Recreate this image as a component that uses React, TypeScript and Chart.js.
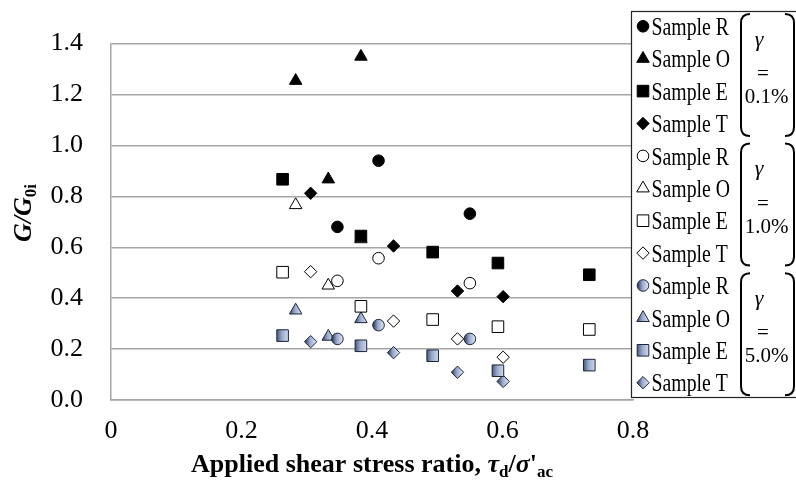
import React, { useEffect, useRef } from 'react';
import { Chart, registerables } from 'chart.js';
import { drawPoint } from 'chart.js/helpers';

Chart.register(...registerables);

// ---- data ----
const sampleNames = ['Sample R', 'Sample O', 'Sample E', 'Sample T'];
const strainLabels = ['0.1%', '1.0%', '5.0%'];

const xR = [0.347, 0.41, 0.55];
const xO = [0.283, 0.333, 0.383];
const xE = [0.263, 0.383, 0.493, 0.593, 0.733];
const xT = [0.306, 0.433, 0.531, 0.601];

// gamma = 0.1%
const yR01 = [0.68, 0.94, 0.732];
const yO01 = [1.254, 0.867, 1.349];
const yE01 = [0.867, 0.644, 0.581, 0.538, 0.492];
const yT01 = [0.812, 0.605, 0.428, 0.406];
// gamma = 1.0%
const yR10 = [0.468, 0.557, 0.459];
const yO10 = [0.766, 0.45, 0.632];
const yE10 = [0.502, 0.368, 0.316, 0.288, 0.277];
const yT10 = [0.504, 0.31, 0.24, 0.168];
// gamma = 5.0%
const yR50 = [0.24, 0.294, 0.24];
const yO50 = [0.352, 0.249, 0.318];
const yE50 = [0.253, 0.213, 0.174, 0.115, 0.137];
const yT50 = [0.229, 0.186, 0.109, 0.073];

const xTicks = [0, 0.2, 0.4, 0.6, 0.8];
const yTicks = [0, 0.2, 0.4, 0.6, 0.8, 1.0, 1.2, 1.4];

const xs = [xR, xO, xE, xT];
const ys = [
  [yR01, yO01, yE01, yT01],
  [yR10, yO10, yE10, yT10],
  [yR50, yO50, yE50, yT50],
];

// ---- styles ----
const shapes = ['circle', 'triangle', 'rect', 'rectRot'];
const radii = [5.8, 7.2, 8.2, 6.2];
const FONT = "'Liberation Serif', 'Times New Roman', serif";

function makeGrad(ctx: CanvasRenderingContext2D, px: number, r: number) {
  const g = ctx.createLinearGradient(px - r, 0, px + r, 0);
  g.addColorStop(0, '#26324f');
  g.addColorStop(0.45, '#98a9cc');
  g.addColorStop(1, '#e6ecf7');
  return g;
}

function fillFor(strain: number, shapeIdx: number) {
  if (strain === 0) return '#000000';
  if (strain === 1) return '#ffffff';
  return (c: any) => {
    const chart = c.chart;
    const raw = c.raw;
    if (!raw || !chart.scales || !chart.scales.x || !chart.chartArea) return '#a9b7d6';
    const px = chart.scales.x.getPixelForValue(raw.x);
    if (!Number.isFinite(px)) return '#a9b7d6';
    return makeGrad(chart.ctx, px, radii[shapeIdx]);
  };
}
const strokeFor = ['#000000', '#000000', '#1c243a'];

function buildDatasets() {
  const out: any[] = [];
  for (let g = 0; g < 3; g++) {
    for (let s = 0; s < 4; s++) {
      out.push({
        label: sampleNames[s] + ' ' + strainLabels[g],
        data: xs[s].map((x, i) => ({ x, y: ys[g][s][i] })),
        showLine: false,
        pointStyle: shapes[s],
        pointRadius: radii[s],
        pointHoverRadius: radii[s],
        pointBackgroundColor: fillFor(g, s),
        pointBorderColor: strokeFor[g],
        pointBorderWidth: 1,
      });
    }
  }
  return out;
}

const overlay = {
  id: 'overlay',
  afterDraw(chart: any) {
    const ctx: CanvasRenderingContext2D = chart.ctx;
    ctx.save();
    // legend box
    ctx.fillStyle = '#ffffff';
    ctx.fillRect(631, 11, 175, 386);
    ctx.strokeStyle = '#222';
    ctx.lineWidth = 1.2;
    ctx.strokeRect(631.5, 11.5, 175, 386);

    for (let g = 0; g < 3; g++) {
      for (let s = 0; s < 4; s++) {
        const i = g * 4 + s;
        const yc = 26.3 + 32.4 * i;
        const mx = 643;
        ctx.save();
        if (g === 0) ctx.fillStyle = '#000';
        else if (g === 1) ctx.fillStyle = '#fff';
        else ctx.fillStyle = makeGrad(ctx, mx, radii[s]);
        ctx.strokeStyle = strokeFor[g];
        ctx.lineWidth = 1;
        drawPoint(ctx, { pointStyle: shapes[s], radius: radii[s], rotation: 0, borderWidth: 1 } as any, mx, yc);
        ctx.restore();
        ctx.save();
        ctx.fillStyle = '#000';
        ctx.font = `26px ${FONT}`;
        ctx.textAlign = 'left';
        ctx.textBaseline = 'alphabetic';
        ctx.translate(651.5, yc + 8.7);
        ctx.scale(0.76, 1);
        ctx.fillText(sampleNames[s], 0, 0);
        ctx.restore();
      }
      // brackets
      const top = 14 + 129.6 * g;
      const bot = top + 122;
      ctx.strokeStyle = '#000';
      ctx.lineWidth = 2;
      ctx.beginPath();
      ctx.moveTo(750, top);
      ctx.quadraticCurveTo(741, top, 741, top + 9);
      ctx.lineTo(741, bot - 9);
      ctx.quadraticCurveTo(741, bot, 750, bot);
      ctx.stroke();
      ctx.beginPath();
      ctx.moveTo(785, top);
      ctx.quadraticCurveTo(794, top, 794, top + 9);
      ctx.lineTo(794, bot - 9);
      ctx.quadraticCurveTo(794, bot, 785, bot);
      ctx.stroke();
      // gamma labels
      ctx.fillStyle = '#000';
      ctx.textAlign = 'center';
      ctx.textBaseline = 'alphabetic';
      ctx.font = `italic 22px ${FONT}`;
      ctx.fillText('γ', 759, top + 31.5);
      ctx.font = `21px ${FONT}`;
      ctx.fillText('=', 763, top + 66);
      ctx.fillText(strainLabels[g], 766.5, top + 89);
    }

    // x title
    const runs: [string, string, number][] = [
      ['Applied shear stress ratio, ', `bold 26px ${FONT}`, 0],
      ['τ', `bold italic 26px ${FONT}`, 0],
      ['d', `bold 17px ${FONT}`, 5],
      ['/', `bold 26px ${FONT}`, 0],
      ['σ', `bold italic 26px ${FONT}`, 0],
      ["'", `bold 26px ${FONT}`, 0],
      ['ac', `bold 17px ${FONT}`, 5],
    ];
    const area = chart.chartArea;
    let total = 0;
    for (const [t, f] of runs) { ctx.font = f; total += ctx.measureText(t).width; }
    let xPos = (area.left + area.right) / 2 - total / 2;
    ctx.textAlign = 'left';
    for (const [t, f, dy] of runs) {
      ctx.font = f;
      ctx.fillText(t, xPos, 472 + dy);
      xPos += ctx.measureText(t).width;
    }

    // y title
    const yruns: [string, string, number][] = [
      ['G/G', `bold italic 26px ${FONT}`, 0],
      ['0i', `bold 17px ${FONT}`, 5],
    ];
    ctx.save();
    ctx.translate(31, 213);
    ctx.rotate(-Math.PI / 2);
    let yt = 0;
    for (const [t, f] of yruns) { ctx.font = f; yt += ctx.measureText(t).width; }
    let lx = -yt / 2;
    for (const [t, f, dy] of yruns) {
      ctx.font = f;
      ctx.fillText(t, lx, dy);
      lx += ctx.measureText(t).width;
    }
    ctx.restore();
    ctx.restore();
  },
};

export default function App() {
  const ref = useRef<HTMLCanvasElement | null>(null);
  useEffect(() => {
    if (!ref.current) return;
    const chart = new Chart(ref.current, {
      type: 'scatter',
      data: { datasets: buildDatasets() },
      options: {
        animation: false,
        responsive: false,
        events: [],
        layout: { padding: { left: 0, right: 163, top: 16, bottom: 0 } },
        plugins: { legend: { display: false }, tooltip: { enabled: false } },
        scales: {
          x: {
            type: 'linear',
            min: xTicks[0],
            max: xTicks[xTicks.length - 1],
            afterBuildTicks: (s: any) => { s.ticks = xTicks.map((v) => ({ value: v })); },
            afterFit: (s: any) => { s.height = 89; },
            ticks: {
              color: '#000',
              font: { family: FONT, size: 26 },
              padding: 16,
              maxRotation: 0,
              callback: (v: any) => (Number(v) === 0 ? '0' : Number(v).toFixed(1)),
            },
            grid: { display: false, drawTicks: false },
            border: { display: true, color: '#a6a6a6', width: 1.5 },
          },
          y: {
            type: 'linear',
            min: yTicks[0],
            max: yTicks[yTicks.length - 1],
            afterBuildTicks: (s: any) => { s.ticks = yTicks.map((v) => ({ value: v })); },
            afterFit: (s: any) => { s.width = 111; },
            ticks: {
              color: '#000',
              font: { family: FONT, size: 26 },
              padding: 28,
              callback: (v: any) => Number(v).toFixed(1),
            },
            grid: { color: '#a6a6a6', lineWidth: 1.5, drawTicks: false },
            border: { display: true, color: '#a6a6a6', width: 1.5 },
          },
        },
      },
      plugins: [overlay],
    });
    return () => chart.destroy();
  }, []);
  return (
    <div style={{ position: 'fixed', left: 0, top: 0, width: 796, height: 489, background: '#fff' }}>
      <canvas ref={ref} width={796} height={489} style={{ display: 'block', width: 796, height: 489 }} />
    </div>
  );
}
